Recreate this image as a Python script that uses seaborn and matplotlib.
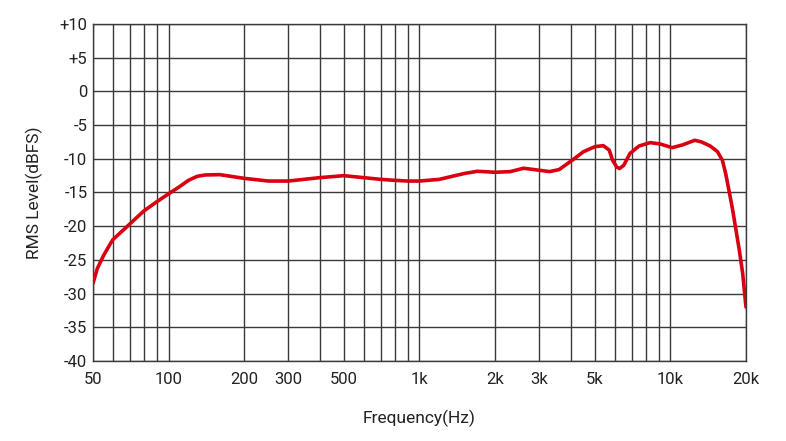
import matplotlib
matplotlib.use("Agg")
import matplotlib.pyplot as plt
import seaborn as sns
import pandas as pd
from matplotlib.ticker import FixedLocator, NullLocator, NullFormatter

freq_hz = [50, 52, 55, 58, 60, 65, 70, 75, 80, 90, 100, 110, 120, 130, 140, 160,
           200, 250, 300, 400, 500, 600, 700, 800, 900, 1000, 1200, 1500, 1700,
           2000, 2300, 2600, 3000, 3300, 3600, 4100, 4500, 5000, 5400, 5700, 5880,
           6100, 6270, 6520, 6900, 7500, 8300, 9100, 10150, 11150, 12500, 13300,
           14400, 15400, 16100, 16600, 17150, 17700, 18250, 18800, 19400, 20000]
level_db = [-28.5, -26.3, -24.4, -22.9, -22.0, -20.8, -19.7, -18.65, -17.7, -16.35,
            -15.2, -14.2, -13.2, -12.6, -12.4, -12.35, -12.9, -13.3, -13.3, -12.8,
            -12.5, -12.8, -13.05, -13.2, -13.3, -13.3, -13.05, -12.2, -11.85, -12.0,
            -11.9, -11.4, -11.7, -11.9, -11.6, -10.1, -8.95, -8.2, -8.05, -8.7,
            -10.2, -11.2, -11.45, -10.95, -9.2, -8.1, -7.6, -7.8, -8.35, -7.95,
            -7.25, -7.5, -8.1, -8.95, -10.2, -12.2, -14.9, -17.6, -20.6, -23.5,
            -27.0, -32.0]

x_ticks = [50, 100, 200, 300, 500, 1000, 2000, 3000, 5000, 10000, 20000]
x_tick_labels = ["50", "100", "200", "300", "500", "1k", "2k", "3k", "5k", "10k", "20k"]
x_grid = [50, 60, 70, 80, 90, 100, 200, 300, 400, 500, 600, 700, 800, 900, 1000,
          2000, 3000, 4000, 5000, 6000, 7000, 8000, 9000, 10000, 20000]
y_ticks = [10, 5, 0, -5, -10, -15, -20, -25, -30, -35, -40]
y_tick_labels = ["+10", "+5", "0", "-5", "-10", "-15", "-20", "-25", "-30", "-35", "-40"]

sns.set_theme(style="white")
plt.rcParams['font.family'] = ['Roboto', 'DejaVu Sans']

df = pd.DataFrame({"freq": freq_hz, "level": level_db})

fig = plt.figure(figsize=(7.86, 4.41), dpi=100)
ax = fig.add_axes([0.1183, 0.1814, 0.8308, 0.7642])

gc = "#3a3a3a"
for xv in x_grid:
    ax.axvline(xv, color=gc, lw=1.0, zorder=1)
for yv in y_ticks:
    ax.axhline(yv, color=gc, lw=1.0, zorder=1)

sns.lineplot(data=df, x="freq", y="level", ax=ax, color="#d90012", lw=2.6, zorder=3)
for ln in ax.lines:
    ln.set_solid_joinstyle("round")
    ln.set_solid_capstyle("round")

ax.set_xscale("log")
ax.set_xlim(50, 20000)
ax.set_ylim(-40, 10)
ax.xaxis.set_major_locator(FixedLocator(x_ticks))
ax.set_xticklabels(x_tick_labels)
ax.xaxis.set_minor_locator(NullLocator())
ax.xaxis.set_minor_formatter(NullFormatter())
ax.set_yticks(y_ticks)
ax.set_yticklabels(y_tick_labels)
ax.tick_params(axis="both", length=0, labelsize=12, colors="#222222")
ax.tick_params(axis="x", pad=8)
ax.tick_params(axis="y", pad=4)
for s in ax.spines.values():
    s.set_color(gc)
    s.set_linewidth(1.0)
    s.set_visible(True)

ax.set_xlabel("Frequency(Hz)", fontsize=12.5, color="#222222", labelpad=16)
ax.set_ylabel("RMS Level(dBFS)", fontsize=12.5, color="#222222", labelpad=12)

fig.savefig("out.png", dpi=100)
